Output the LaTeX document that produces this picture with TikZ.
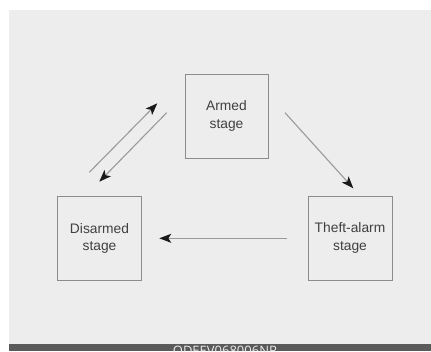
\documentclass[tikz,border=0pt]{standalone}
\usepackage{fontspec}
\setmainfont{Liberation Sans}
\newfontfamily\barfont{Open Sans}
\usetikzlibrary{arrows.meta}
\definecolor{bg}{HTML}{EDEDED}
\definecolor{barc}{HTML}{5A5A5A}
\definecolor{boxline}{HTML}{8C8C8C}
\definecolor{arrline}{HTML}{9A9A9A}
\definecolor{txt}{HTML}{404040}
\tikzset{
  stagebox/.style={draw=boxline, line width=1pt, fill=bg, minimum width=83pt, minimum height=84pt,
    inner sep=0pt, align=center, text=txt, font=\fontsize{13.8}{17.5}\selectfont},
  flow/.style={draw=arrline, line width=1.1pt, -{Stealth[length=12pt,width=9pt,inset=3pt,color=black!90]}}
}
\begin{document}
\begin{tikzpicture}[x=1pt,y=-1pt]
\useasboundingbox (0,0) rectangle (431,351);
\fill[white] (0,0) rectangle (431,351);
\fill[bg] (9,10) rectangle (431,344);
\fill[barc] (9,344) rectangle (431,351);
\begin{scope}
\clip (9,344) rectangle (431,351);
\node[anchor=north, inner sep=0pt, text=white!92!black, font=\barfont\fontsize{13}{13}\selectfont] (code) at (225,345.6) {QDEEV068006NR};
\end{scope}
\node[stagebox] (armed) at (226.5,116) {Armed\\stage};
\node[stagebox, minimum width=84pt] (theft) at (350,238) {Theft-alarm\\stage};
\node[stagebox, minimum width=84pt] (disarmed) at (99.5,238.3) {Disarmed\\stage};
\coordinate (a1s) at (285,112.7);
\coordinate (a1e) at (353.3,188.3);
\coordinate (a2s) at (287.3,238.3);
\coordinate (a2e) at (159.3,238.3);
\coordinate (a3s) at (89.3,172.3);
\coordinate (a3e) at (157.3,103.3);
\coordinate (a4s) at (166.7,112.7);
\coordinate (a4e) at (99.3,181.7);
\draw[flow] (a1s) -- (a1e);
\draw[flow] (a2s) -- (a2e);
\draw[flow] (a3s) -- (a3e);
\draw[flow] (a4s) -- (a4e);
\end{tikzpicture}
\end{document}
